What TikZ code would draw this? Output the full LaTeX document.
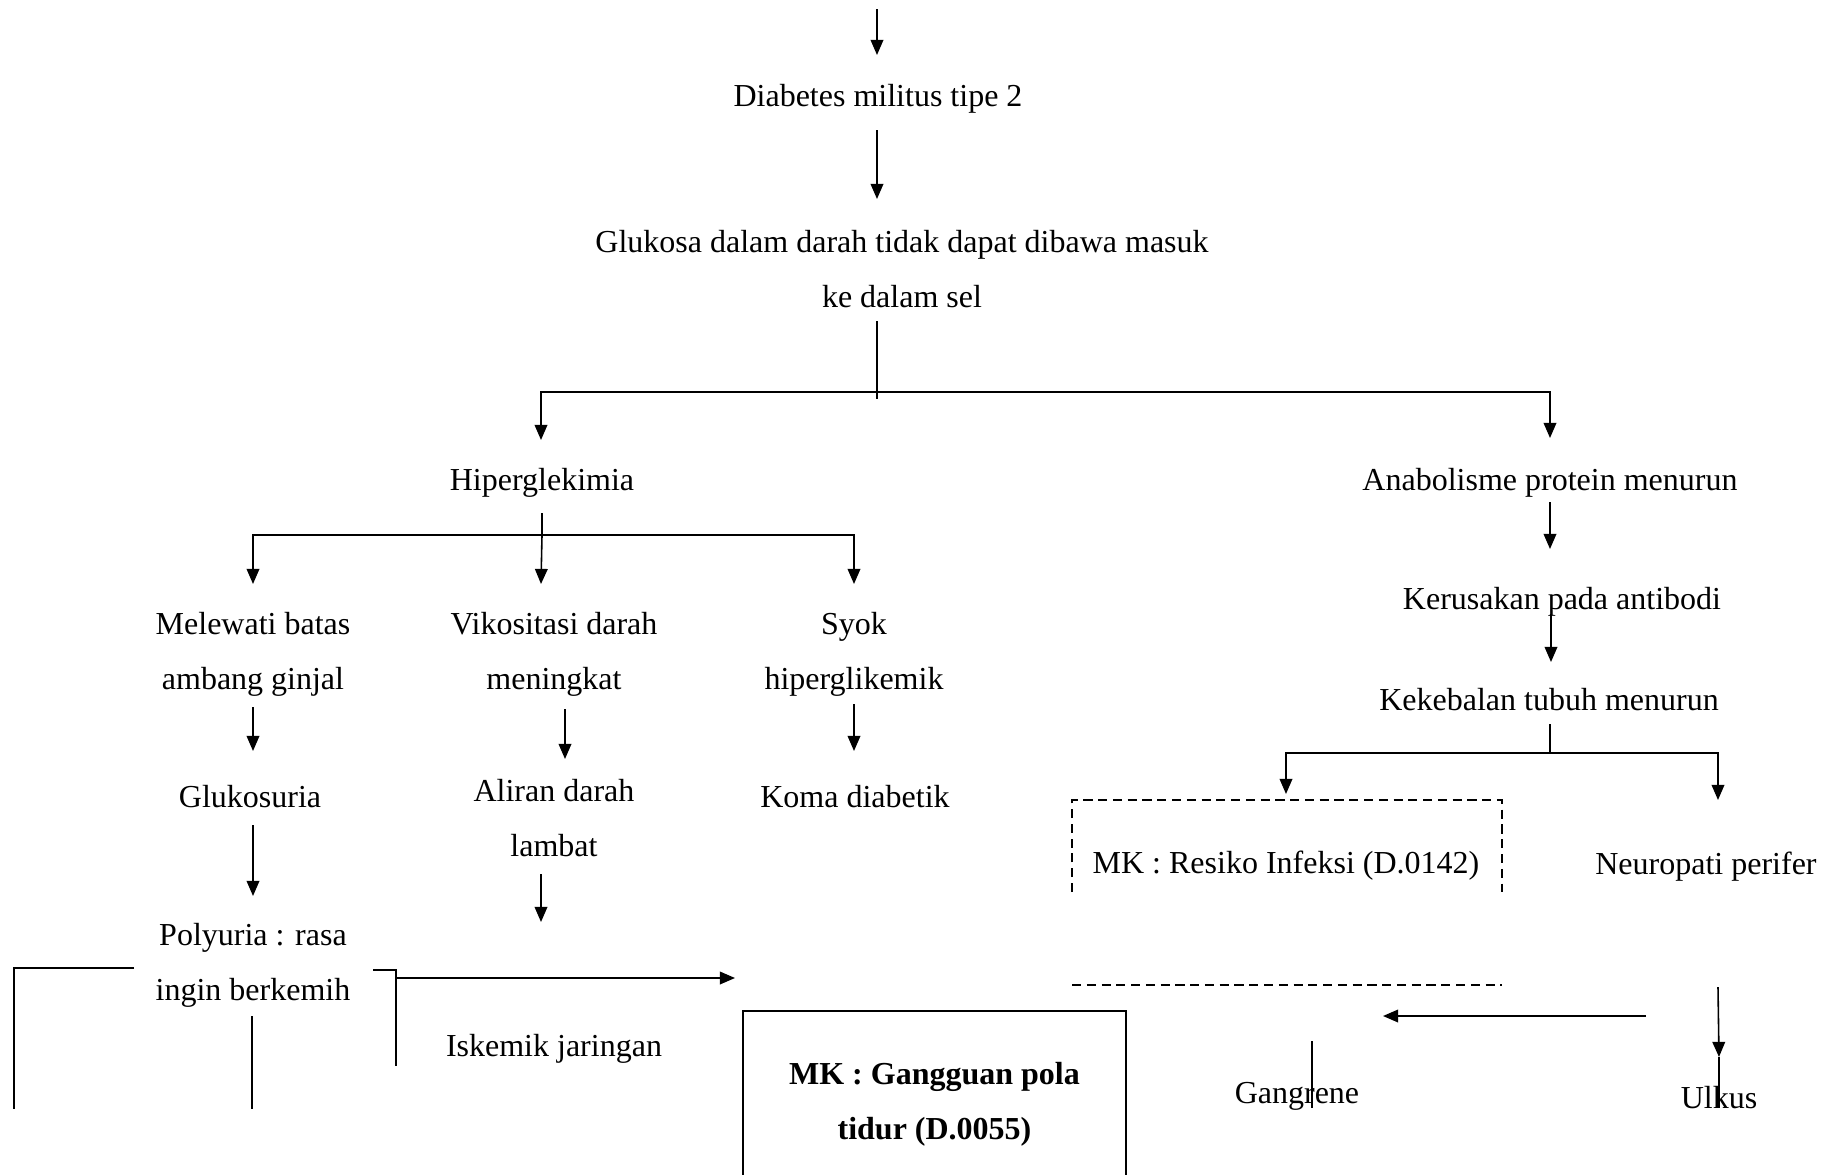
\documentclass[tikz,border=0pt]{standalone}
\usepackage{fontspec}
\setmainfont{Liberation Serif}
\usetikzlibrary{arrows.meta,calc}

\begin{document}
\begin{tikzpicture}[x=0.01cm,y=-0.01cm,line width=0.45pt,
    arr/.style={-{Triangle[length=4.3pt,width=3.6pt]}},
    dsh/.style={dash pattern=on 2.6pt off 1.6pt},
    txt/.style={inner sep=0pt,align=center,font=\fontsize{9.1}{15.65}\selectfont}]
          \useasboundingbox (0,0) rectangle (1832,1175);
          % text of the pathway
          \node[txt] (dm) at (878,98.5) {Diabetes militus tipe 2};
          \node[txt] (glu) at (902,269) {Glukosa dalam darah tidak dapat dibawa masuk\\ke dalam sel};
          \node[txt] (hip) at (542,482.5) {Hiperglekimia};
          \node[txt] (ana) at (1550,482.5) {Anabolisme protein menurun};
          \node[txt] (mel) at (253,654.5) {Melewati batas\\ambang ginjal};
          \node[txt] (vis) at (554,654.5) {Vikositasi darah\\meningkat};
          \node[txt] (syok) at (854,654.5) {Syok\\hiperglikemik};
          \node[txt] (glks) at (250,796.5) {Glukosuria};
          \node[txt] (alir) at (554,818) {Aliran darah\\lambat};
          \node[txt] (koma) at (855,796.5) {Koma diabetik};
          \node[txt] (poly) at (253,965) {Polyuria : rasa\\ingin berkemih};
          \node[txt] (isk) at (554,1048.5) {Iskemik jaringan};
          \node[txt,draw,minimum width=3.83cm,minimum height=1.86cm,font=\fontsize{9.1}{15.65}\selectfont\bfseries] (gpt) at (934.5,1104) {MK : Gangguan pola\\tidur (D.0055)};
          \node[txt] (ker) at (1562,601.5) {Kerusakan pada antibodi};
          \node[txt] (keb) at (1549,699.5) {Kekebalan tubuh menurun};
          \node[txt] (mkri) at (1286,865.5) {MK : Resiko Infeksi (D.0142)};
          \node[txt] (neu) at (1706,866.5) {Neuropati perifer};
          \node[txt] (ulk) at (1719,1097.5) {Ulkus};
          \node[txt] (gang) at (1297,1096.5) {Gangrene};
          \coordinate (top) at (877,9);
          \coordinate (j1) at (877,392);
          \coordinate (j2) at (542,535);
          \coordinate (j3) at (1550,753);
          % main stem
          \draw[arr] (top) -- ($(dm)+(-1,-43.5)$);
          \draw[arr] ($(dm)+(-1,31.5)$) -- ($(glu)+(-25,-70)$);
          \draw ($(glu)+(-25,52)$) -- ($(glu)+(-25,130)$);
          \draw[arr] (j1) -| ($(hip)+(-1,-42.5)$);
          \draw[arr] (j1) -| ($(ana)+(0,-44.5)$);
          % left branch
          \draw ($(hip)+(0,30.5)$) -- ($(hip)+(0,55.5)$);
          \draw[arr] (j2) -| ($(mel)+(0,-70.5)$);
          \draw[arr] (j2) -| ($(syok)+(0,-70.5)$);
          \draw[arr] (j2) -- ($(vis)+(-13,-70.5)$);
          \draw[arr] ($(mel)+(0,52.5)$) -- ($(glks)+(3,-45.5)$);
          \draw[arr] ($(vis)+(11,54.5)$) -- ($(alir)+(11,-59)$);
          \draw[arr] ($(syok)+(0,49.5)$) -- ($(koma)+(-1,-45.5)$);
          \draw[arr] ($(glks)+(3,28.5)$) -- ($(poly)+(0,-69)$);
          \draw[arr] ($(alir)+(-13,56)$) -- ++(0,48);
          \draw ($(poly)+(-119,3)$) -| ++(-120,141);
          \draw ($(poly)+(-1,51)$) -- ($(poly)+(-1,144)$);
          \draw ($(poly)+(120,5)$) -| ++(23,96);
          \draw[arr] ($(poly)+(144,13)$) -- ++(338,0);
          % right branch
          \draw[arr] ($(ana)+(0,19.5)$) -- ($(ker)+(-12,-52.5)$);
          \draw[arr] ($(ker)+(-11,12.5)$) -- ($(keb)+(2,-37.5)$);
          \draw ($(keb)+(1,24.5)$) -- (j3);
          \draw[arr] (j3) -| ($(mkri)+(0,-71.5)$);
          \draw[arr] (j3) -| ($(neu)+(12,-66.5)$);
          \draw[dsh] ($(mkri)+(-214,26.5)$) |- ($(mkri)+(216,-65.5)$) -- ($(mkri)+(216,26.5)$);
          \draw[dsh] ($(mkri)+(-214,119.5)$) -- ($(mkri)+(216,119.5)$);
          \draw[arr] ($(neu)+(12,120.5)$) -- ($(ulk)+(0,-40.5)$);
          \draw ($(ulk)+(0,-40.5)$) -- ($(ulk)+(0,10.5)$);
          \draw[arr] ($(ulk)+(-73,-81.5)$) -- ($(gang)+(86,-80.5)$);
          \draw ($(gang)+(15,-55.5)$) -- ($(gang)+(15,11.5)$);
            \end{tikzpicture}
\end{document}
